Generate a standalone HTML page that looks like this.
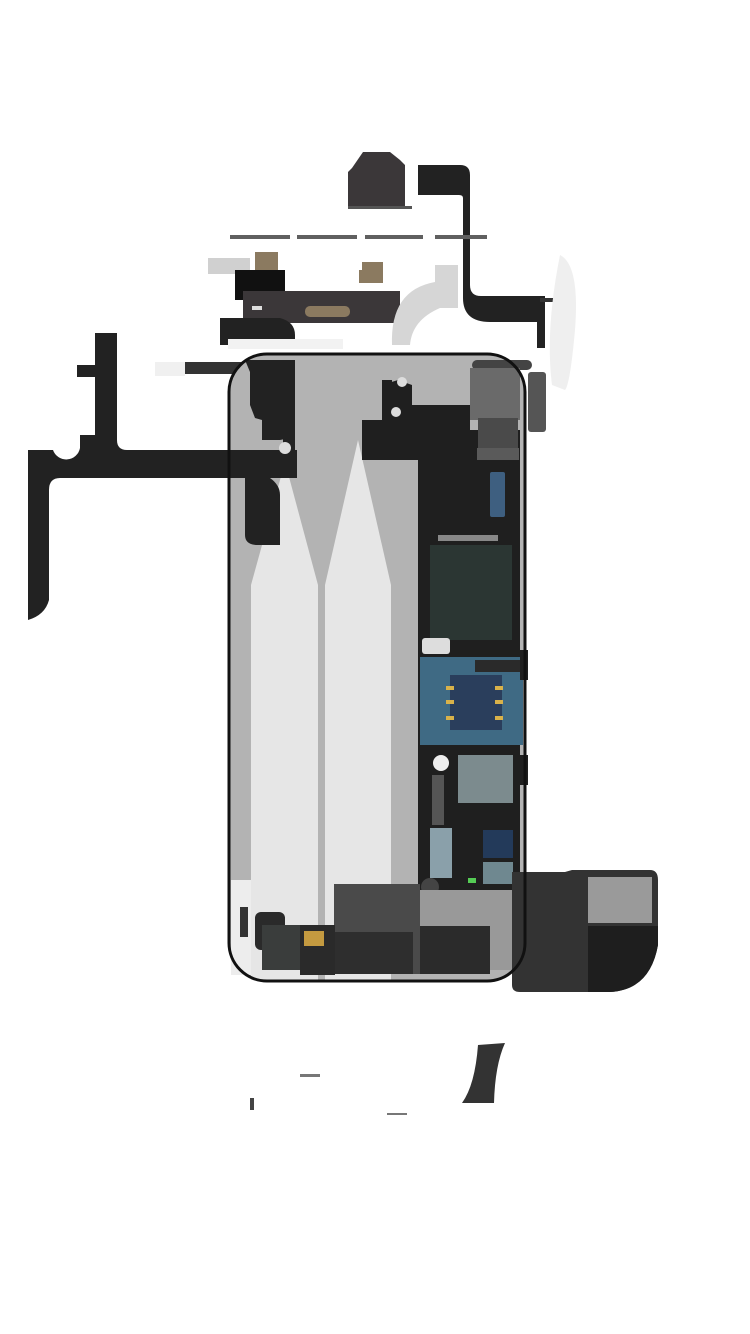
<!DOCTYPE html>
<html><head><meta charset="utf-8"><style>html,body{margin:0;padding:0;background:#fff;width:750px;height:1334px;overflow:hidden}</style></head>
<body>
<svg width="750" height="1334" viewBox="0 0 750 1334" xmlns="http://www.w3.org/2000/svg">
<defs><clipPath id="spk"><path d="M512 872 L565 872 L572 870 L650 870 Q658 870 658 880 L658 945 Q650 990 610 992 L520 992 Q512 992 512 985 Z"/></clipPath></defs>
<path d="M363 152 L390 152 L400 160 L405 165 L405 208 L348 208 L348 172 L352 168 Z" fill="#3b3739"/>
<rect x="348" y="206" width="64" height="3" fill="#555"/>
<path d="M418 165 L460 165 Q470 165 470 175 L470 285 Q470 296 481 296 L545 296 L545 348 L537 348 L537 322 L490 322 Q463 322 463 298 L463 198 Q463 195 459 195 L418 195 Z" fill="#222"/>
<path d="M555 290 Q567 282 567 295 L567 322 Q560 330 555 322 Z" fill="#333"/>
<rect x="540" y="298" width="20" height="4" fill="#333"/>
<path d="M560 255 Q580 265 575 330 Q570 385 565 390 L552 385 Q545 330 560 255 Z" fill="#efefef"/>
<g fill="#606060"><rect x="230" y="235" width="60" height="4"/><rect x="297" y="235" width="60" height="4"/><rect x="365" y="235" width="58" height="4"/><rect x="435" y="235" width="52" height="4"/></g>
<rect x="208" y="258" width="42" height="16" fill="#d0d0d0"/>
<rect x="255" y="252" width="23" height="28" fill="#8b7a60"/>
<rect x="235" y="270" width="50" height="30" fill="#111"/>
<rect x="243" y="291" width="157" height="32" fill="#3b3739"/>
<rect x="305" y="306" width="45" height="11" rx="5" fill="#8b7a60"/>
<rect x="252" y="306" width="10" height="4" fill="#ddd"/>
<path d="M220 318 L280 318 Q295 322 295 335 L295 340 L230 340 L230 345 L220 345 Z" fill="#222"/>
<rect x="228" y="339" width="115" height="10" fill="#f2f2f2"/>
<path d="M362 262 L383 262 L383 283 L362 283 Z M359 270 L362 270 L362 283 L359 283 Z" fill="#8b7a60"/>
<path d="M435 265 L458 265 L458 308 L440 308 Q412 320 410 345 L392 345 Q390 290 435 282 Z" fill="#d6d6d6"/>
<rect x="155" y="362" width="30" height="14" fill="#f0f0f0"/>
<rect x="185" y="362" width="60" height="12" fill="#333"/>
<rect x="229" y="354" width="296" height="627" rx="38" fill="#b3b3b3"/>
<rect x="231" y="880" width="20" height="95" fill="#ededed"/>
<path d="M285 462 L318 585 L318 980 L251 980 L251 585 Z" fill="#e6e6e6"/>
<path d="M358 440 L391 585 L391 980 L325 980 L325 585 Z" fill="#e6e6e6"/>
<path d="M95 333 L117 333 L117 440 Q117 450 127 450 L297 450 L297 478 L270 478 Q280 485 280 495 L280 545 L258 545 Q245 545 245 535 L245 478 L60 478 Q49 478 49 490 L49 600 Q45 615 28 620 L28 450 L53 450 A14 14 0 0 0 80 448 L80 435 L95 435 Z" fill="#222"/>
<rect x="77" y="365" width="18" height="12" fill="#222"/>
<path d="M245 360 L295 360 L295 450 L283 450 L283 380 L290 380 L290 433 Q285 440 280 440 L262 440 L262 420 L255 418 L250 405 L250 372 Z" fill="#222"/>
<circle cx="285" cy="448" r="6" fill="#ddd"/>
<path d="M382 385 L398 380 L412 385 L412 405 L470 405 L470 430 L520 430 L520 890 L418 890 L418 460 L362 460 L362 420 L382 420 Z" fill="#1f1f1f"/>
<rect x="382" y="380" width="10" height="30" fill="#1f1f1f"/>
<circle cx="402" cy="382" r="5" fill="#ddd"/>
<circle cx="396" cy="412" r="5" fill="#ddd"/>
<rect x="472" y="360" width="60" height="10" rx="5" fill="#444"/>
<rect x="470" y="368" width="50" height="52" fill="#6a6a6a"/>
<rect x="478" y="418" width="40" height="30" fill="#4a4a4a"/>
<rect x="477" y="448" width="42" height="12" fill="#5a5a5a"/>
<rect x="528" y="372" width="18" height="60" rx="3" fill="#555"/>
<rect x="490" y="472" width="15" height="45" rx="2" fill="#3e5f80"/>
<rect x="430" y="545" width="82" height="95" fill="#2b3633"/>
<rect x="438" y="535" width="60" height="6" fill="#888"/>
<rect x="422" y="638" width="28" height="16" rx="3" fill="#ddd"/>
<rect x="420" y="657" width="103" height="88" fill="#3f6a84"/>
<rect x="450" y="675" width="52" height="55" fill="#2a3e5c"/>
<g fill="#d9b24a"><rect x="446" y="686" width="8" height="4"/><rect x="446" y="700" width="8" height="4"/><rect x="446" y="716" width="8" height="4"/><rect x="495" y="686" width="8" height="4"/><rect x="495" y="700" width="8" height="4"/><rect x="495" y="716" width="8" height="4"/></g>
<rect x="475" y="660" width="45" height="12" fill="#2a2a2a"/>
<rect x="520" y="650" width="8" height="30" fill="#1f1f1f"/>
<circle cx="441" cy="763" r="8" fill="#eee"/>
<rect x="458" y="755" width="55" height="48" fill="#7c8b8e"/>
<rect x="432" y="775" width="12" height="50" fill="#555"/>
<rect x="430" y="828" width="22" height="50" fill="#8aa0aa"/>
<rect x="483" y="830" width="30" height="28" fill="#233a5a"/>
<rect x="483" y="862" width="30" height="22" fill="#6f8890"/>
<rect x="468" y="878" width="8" height="5" fill="#5c5"/>
<circle cx="430" cy="887" r="9" fill="#444"/>
<rect x="520" y="755" width="8" height="30" fill="#1f1f1f"/>
<rect x="420" y="890" width="100" height="80" fill="#999"/>
<rect x="334" y="884" width="86" height="90" fill="#4a4a4a"/>
<rect x="335" y="932" width="78" height="42" fill="#2e2e2e"/>
<rect x="420" y="926" width="70" height="48" fill="#2b2b2b"/>
<g clip-path="url(#spk)">
<rect x="510" y="865" width="150" height="130" fill="#333"/>
<rect x="588" y="877" width="64" height="46" fill="#9a9a9a"/>
<rect x="588" y="926" width="72" height="70" fill="#1e1e1e"/>
</g>
<rect x="255" y="912" width="30" height="38" rx="6" fill="#2a2a2a"/>
<rect x="262" y="925" width="45" height="45" fill="#3a3d3c"/>
<rect x="300" y="925" width="35" height="50" fill="#2a2a2a"/>
<rect x="304" y="931" width="20" height="15" fill="#c49a40"/>
<rect x="240" y="907" width="8" height="30" fill="#333"/>
<rect x="229" y="354" width="296" height="627" rx="38" fill="none" stroke="#111" stroke-width="3"/>
<path d="M478 1045 L505 1043 Q495 1065 494 1103 L462 1103 Q475 1085 478 1045 Z" fill="#333"/>
<rect x="300" y="1074" width="20" height="3" fill="#777"/>
<rect x="250" y="1098" width="4" height="12" fill="#444"/>
<rect x="387" y="1113" width="20" height="2" fill="#777"/>
</svg>
</body></html>
